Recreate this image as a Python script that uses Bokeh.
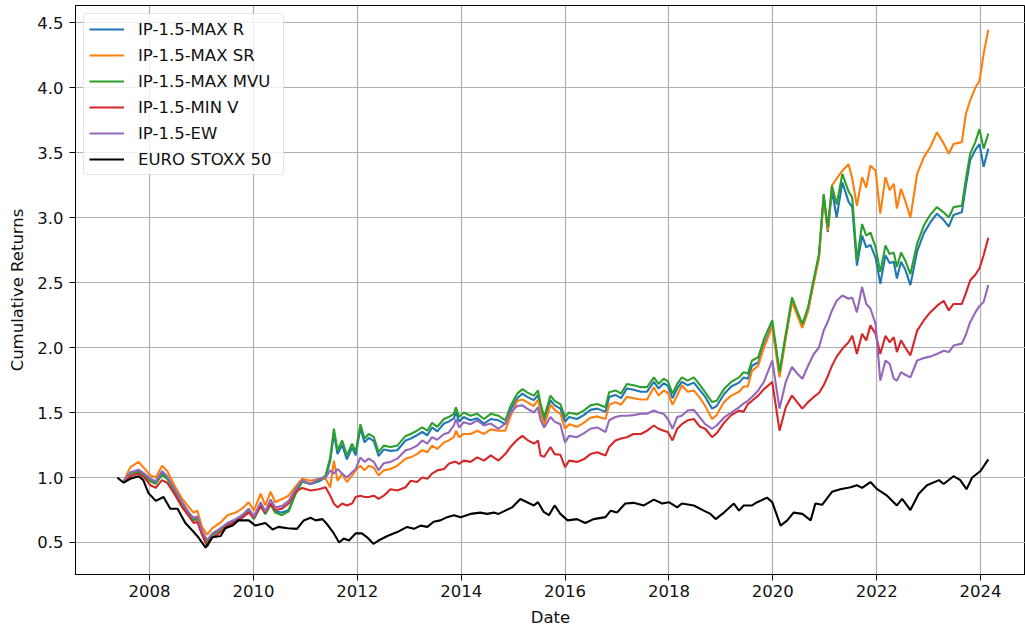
from bokeh.plotting import figure
from bokeh.models import Range1d, FixedTicker, NumeralTickFormatter
from bokeh.embed import file_html
from bokeh.resources import INLINE

FONT = "DejaVu Sans"

# Month-end observation dates (decimal years) shared by the five portfolios
years = [2007.50, 2007.63, 2007.79, 2007.90, 2008.02, 2008.12, 2008.24, 2008.34, 2008.50, 2008.63,
         2008.76, 2008.85, 2008.92, 2009.01, 2009.11, 2009.21, 2009.37, 2009.50, 2009.66, 2009.78,
         2009.91, 2010.01, 2010.14, 2010.23, 2010.33, 2010.42, 2010.55, 2010.68, 2010.81, 2010.94,
         2011.10, 2011.26, 2011.39, 2011.48, 2011.55, 2011.62, 2011.71, 2011.80, 2011.90, 2011.97,
         2012.06, 2012.14, 2012.22, 2012.32, 2012.41, 2012.51, 2012.64, 2012.77, 2012.93, 2013.03,
         2013.15, 2013.25, 2013.35, 2013.44, 2013.54, 2013.67, 2013.76, 2013.86, 2013.90, 2013.96,
         2014.05, 2014.18, 2014.31, 2014.44, 2014.57, 2014.72, 2014.85, 2014.95, 2015.08, 2015.18,
         2015.27, 2015.40, 2015.48, 2015.53, 2015.60, 2015.72, 2015.80, 2015.91, 2016.00, 2016.08,
         2016.23, 2016.36, 2016.49, 2016.62, 2016.78, 2016.85, 2016.97, 2017.08, 2017.19, 2017.32,
         2017.46, 2017.58, 2017.71, 2017.80, 2017.90, 2017.98, 2018.07, 2018.16, 2018.25, 2018.36,
         2018.48, 2018.60, 2018.70, 2018.83, 2018.92, 2019.06, 2019.20, 2019.35, 2019.44, 2019.52,
         2019.60, 2019.72, 2019.83, 2019.99, 2020.13, 2020.25, 2020.37, 2020.47, 2020.57, 2020.68,
         2020.79, 2020.89, 2020.98, 2021.06, 2021.14, 2021.23, 2021.34, 2021.46, 2021.53, 2021.62,
         2021.72, 2021.80, 2021.88, 2021.98, 2022.07, 2022.17, 2022.25, 2022.33, 2022.39, 2022.47,
         2022.55, 2022.65, 2022.78, 2022.91, 2023.03, 2023.16, 2023.29, 2023.39, 2023.48, 2023.64,
         2023.72, 2023.80, 2023.90, 2023.98, 2024.06, 2024.15]

max_r = [0.97, 1.03, 1.05, 1.02, 0.98, 0.96, 1.03, 1.00, 0.89, 0.80,
         0.72, 0.68, 0.69, 0.58, 0.50, 0.56, 0.60, 0.64, 0.67, 0.70,
         0.75, 0.69, 0.79, 0.72, 0.80, 0.74, 0.73, 0.75, 0.88, 0.97,
         0.95, 0.97, 1.00, 1.13, 1.34, 1.18, 1.25, 1.14, 1.23, 1.17,
         1.38, 1.27, 1.305, 1.28, 1.165, 1.215, 1.205, 1.21, 1.285, 1.30,
         1.325, 1.35, 1.325, 1.385, 1.355, 1.415, 1.43, 1.455, 1.505, 1.43,
         1.465, 1.44, 1.455, 1.415, 1.45, 1.44, 1.41, 1.52, 1.61, 1.645,
         1.62, 1.595, 1.635, 1.53, 1.43, 1.595, 1.555, 1.53, 1.43, 1.465,
         1.45, 1.48, 1.52, 1.53, 1.505, 1.62, 1.635, 1.61, 1.685, 1.675,
         1.66, 1.66, 1.735, 1.685, 1.725, 1.705, 1.61, 1.685, 1.735, 1.71,
         1.73, 1.67, 1.62, 1.53, 1.55, 1.64, 1.70, 1.73, 1.77, 1.76,
         1.86, 1.885, 2.02, 2.17, 1.80, 2.08, 2.36, 2.26, 2.16, 2.29,
         2.51, 2.70, 3.16, 2.89, 3.21, 3.00, 3.27, 3.12, 3.08, 2.63,
         2.86, 2.77, 2.79, 2.69, 2.49, 2.71, 2.65, 2.66, 2.53, 2.66,
         2.60, 2.48, 2.74, 2.88, 2.96, 3.03, 2.98, 2.93, 3.02, 3.04,
         3.25, 3.44, 3.52, 3.565, 3.39, 3.53]

max_sr = [0.97, 1.08, 1.12, 1.07, 1.015, 1.00, 1.09, 1.05, 0.925, 0.835,
          0.77, 0.73, 0.745, 0.62, 0.56, 0.61, 0.655, 0.71, 0.73, 0.76,
          0.81, 0.745, 0.875, 0.785, 0.89, 0.81, 0.835, 0.86, 0.93, 0.99,
          0.975, 0.99, 0.99, 0.925, 1.13, 0.975, 1.03, 0.965, 1.015, 1.055,
          1.09, 1.055, 1.09, 1.075, 1.015, 1.055, 1.065, 1.09, 1.145, 1.155,
          1.18, 1.21, 1.195, 1.245, 1.22, 1.27, 1.285, 1.31, 1.36, 1.31,
          1.335, 1.335, 1.36, 1.335, 1.37, 1.36, 1.36, 1.47, 1.59, 1.60,
          1.58, 1.55, 1.60, 1.50, 1.40, 1.56, 1.52, 1.49, 1.375, 1.41,
          1.39, 1.42, 1.46, 1.47, 1.45, 1.56, 1.58, 1.56, 1.62, 1.61,
          1.60, 1.60, 1.695, 1.63, 1.67, 1.65, 1.56, 1.63, 1.71, 1.66,
          1.67, 1.61, 1.55, 1.45, 1.48, 1.58, 1.63, 1.66, 1.70, 1.70,
          1.82, 1.86, 2.00, 2.16, 1.77, 2.07, 2.35, 2.25, 2.15, 2.28,
          2.50, 2.69, 3.16, 2.90, 3.245, 3.30, 3.36, 3.41, 3.30, 3.09,
          3.31, 3.23, 3.40, 3.36, 3.03, 3.31, 3.21, 3.26, 3.07, 3.22,
          3.13, 3.00, 3.335, 3.465, 3.54, 3.655, 3.57, 3.49, 3.565, 3.58,
          3.80, 3.90, 4.00, 4.05, 4.26, 4.445]

max_mvu = [0.97, 1.03, 1.04, 1.01, 0.97, 0.95, 1.02, 0.99, 0.88, 0.79,
           0.71, 0.67, 0.68, 0.57, 0.50, 0.56, 0.60, 0.63, 0.66, 0.69,
           0.74, 0.68, 0.78, 0.72, 0.79, 0.73, 0.71, 0.74, 0.87, 0.97,
           0.95, 0.98, 1.015, 1.155, 1.375, 1.21, 1.285, 1.17, 1.26, 1.195,
           1.41, 1.30, 1.335, 1.31, 1.195, 1.245, 1.235, 1.245, 1.32, 1.335,
           1.36, 1.385, 1.36, 1.42, 1.39, 1.45, 1.465, 1.49, 1.54, 1.465,
           1.50, 1.475, 1.49, 1.45, 1.49, 1.475, 1.44, 1.55, 1.645, 1.68,
           1.655, 1.63, 1.67, 1.565, 1.465, 1.63, 1.59, 1.565, 1.465, 1.50,
           1.485, 1.515, 1.555, 1.565, 1.54, 1.655, 1.67, 1.645, 1.72, 1.71,
           1.695, 1.695, 1.77, 1.72, 1.76, 1.74, 1.645, 1.72, 1.77, 1.745,
           1.77, 1.71, 1.655, 1.58, 1.59, 1.68, 1.735, 1.77, 1.81, 1.80,
           1.90, 1.925, 2.065, 2.21, 1.81, 2.105, 2.385, 2.28, 2.18, 2.31,
           2.53, 2.72, 3.18, 2.925, 3.245, 3.10, 3.335, 3.20, 3.155, 2.67,
           2.95, 2.86, 2.885, 2.77, 2.58, 2.785, 2.72, 2.73, 2.62, 2.73,
           2.67, 2.565, 2.80, 2.94, 3.02, 3.08, 3.04, 3.00, 3.08, 3.09,
           3.30, 3.49, 3.58, 3.68, 3.53, 3.645]

min_v = [0.96, 1.01, 1.03, 1.00, 0.94, 0.92, 0.98, 0.96, 0.86, 0.77,
         0.70, 0.65, 0.66, 0.56, 0.47, 0.54, 0.58, 0.63, 0.66, 0.69,
         0.73, 0.69, 0.78, 0.73, 0.80, 0.75, 0.76, 0.80, 0.89, 0.92,
         0.90, 0.91, 0.925, 0.86, 0.80, 0.77, 0.80, 0.785, 0.80, 0.85,
         0.86, 0.85, 0.85, 0.86, 0.835, 0.86, 0.91, 0.90, 0.925, 0.975,
         0.965, 1.00, 0.99, 1.03, 1.055, 1.065, 1.105, 1.12, 1.12, 1.105,
         1.13, 1.12, 1.155, 1.13, 1.17, 1.13, 1.18, 1.235, 1.29, 1.32,
         1.29, 1.26, 1.285, 1.17, 1.16, 1.235, 1.18, 1.175, 1.08, 1.13,
         1.12, 1.14, 1.18, 1.195, 1.17, 1.235, 1.285, 1.30, 1.31, 1.335,
         1.335, 1.36, 1.40, 1.375, 1.36, 1.35, 1.285, 1.375, 1.41, 1.44,
         1.45, 1.39, 1.375, 1.31, 1.34, 1.42, 1.48, 1.515, 1.505, 1.565,
         1.59, 1.63, 1.68, 1.735, 1.36, 1.54, 1.63, 1.58, 1.53, 1.58,
         1.62, 1.65, 1.71, 1.78, 1.86, 1.93, 1.99, 2.04, 2.09, 1.95,
         2.105, 2.055, 2.17, 2.105, 1.95, 2.09, 2.04, 2.08, 1.965, 2.055,
         2.00, 1.94, 2.13, 2.21, 2.27, 2.32, 2.36, 2.285, 2.335, 2.335,
         2.42, 2.515, 2.56, 2.61, 2.71, 2.845]

equal_w = [0.97, 1.04, 1.06, 1.03, 0.99, 0.97, 1.05, 1.01, 0.90, 0.81,
           0.73, 0.69, 0.70, 0.59, 0.52, 0.57, 0.61, 0.65, 0.68, 0.71,
           0.76, 0.70, 0.81, 0.74, 0.83, 0.77, 0.78, 0.82, 0.91, 0.98,
           0.95, 0.99, 1.00, 1.055, 1.03, 1.065, 1.03, 1.00, 1.04, 1.065,
           1.155, 1.12, 1.145, 1.12, 1.055, 1.11, 1.12, 1.145, 1.21, 1.22,
           1.245, 1.285, 1.26, 1.31, 1.29, 1.335, 1.345, 1.40, 1.45, 1.385,
           1.425, 1.41, 1.44, 1.40, 1.415, 1.375, 1.415, 1.50, 1.55, 1.555,
           1.53, 1.50, 1.54, 1.44, 1.385, 1.465, 1.43, 1.41, 1.27, 1.32,
           1.31, 1.34, 1.375, 1.385, 1.35, 1.44, 1.465, 1.475, 1.475, 1.48,
           1.49, 1.49, 1.515, 1.50, 1.49, 1.45, 1.375, 1.465, 1.475, 1.515,
           1.52, 1.46, 1.41, 1.375, 1.40, 1.46, 1.50, 1.54, 1.57, 1.59,
           1.62, 1.67, 1.735, 1.90, 1.53, 1.735, 1.85, 1.80, 1.76, 1.86,
           1.95, 2.00, 2.13, 2.20, 2.285, 2.36, 2.40, 2.375, 2.385, 2.27,
           2.465, 2.335, 2.30, 2.18, 1.745, 1.90, 1.875, 1.76, 1.745, 1.81,
           1.79, 1.77, 1.90, 1.92, 1.93, 1.95, 1.975, 1.965, 2.015, 2.03,
           2.10, 2.195, 2.27, 2.32, 2.35, 2.48]

# Benchmark index, rebased to 1 at the start
stoxx_years = [2007.38, 2007.50, 2007.63, 2007.79, 2007.88, 2007.98, 2008.12, 2008.27, 2008.40, 2008.54,
               2008.69, 2008.83, 2008.94, 2009.08, 2009.21, 2009.37, 2009.46, 2009.60, 2009.71, 2009.91,
               2010.04, 2010.23, 2010.37, 2010.48, 2010.66, 2010.84, 2010.97, 2011.10, 2011.20, 2011.33,
               2011.42, 2011.55, 2011.65, 2011.74, 2011.84, 2011.97, 2012.09, 2012.19, 2012.31, 2012.41,
               2012.58, 2012.77, 2012.96, 2013.09, 2013.22, 2013.35, 2013.47, 2013.60, 2013.73, 2013.86,
               2013.99, 2014.18, 2014.37, 2014.50, 2014.63, 2014.72, 2014.85, 2014.98, 2015.14, 2015.27,
               2015.40, 2015.48, 2015.59, 2015.69, 2015.80, 2015.91, 2016.05, 2016.23, 2016.39, 2016.55,
               2016.78, 2016.88, 2017.00, 2017.16, 2017.32, 2017.52, 2017.71, 2017.87, 2018.00, 2018.16,
               2018.25, 2018.48, 2018.67, 2018.80, 2018.90, 2019.06, 2019.25, 2019.35, 2019.44, 2019.60,
               2019.70, 2019.89, 2019.99, 2020.15, 2020.28, 2020.40, 2020.57, 2020.73, 2020.82, 2020.95,
               2021.14, 2021.30, 2021.50, 2021.62, 2021.72, 2021.88, 2022.01, 2022.20, 2022.39, 2022.49,
               2022.65, 2022.81, 2022.97, 2023.20, 2023.29, 2023.48, 2023.61, 2023.73, 2023.84, 2024.00,
               2024.15]

stoxx = [1.00, 0.96, 0.99, 1.01, 0.98, 0.88, 0.82, 0.85, 0.76, 0.76,
         0.65, 0.59, 0.54, 0.46, 0.54, 0.55, 0.61, 0.63, 0.67, 0.67,
         0.63, 0.65, 0.60, 0.62, 0.61, 0.605, 0.67, 0.69, 0.67, 0.68,
         0.64, 0.57, 0.50, 0.53, 0.515, 0.57, 0.57, 0.54, 0.49, 0.515,
         0.55, 0.58, 0.62, 0.605, 0.63, 0.62, 0.66, 0.67, 0.695, 0.71,
         0.695, 0.72, 0.73, 0.72, 0.73, 0.72, 0.745, 0.77, 0.835, 0.81,
         0.785, 0.81, 0.735, 0.71, 0.785, 0.72, 0.67, 0.68, 0.65, 0.68,
         0.695, 0.745, 0.73, 0.80, 0.805, 0.785, 0.83, 0.80, 0.81, 0.77,
         0.80, 0.785, 0.745, 0.72, 0.68, 0.73, 0.80, 0.745, 0.785, 0.785,
         0.81, 0.845, 0.81, 0.63, 0.67, 0.73, 0.72, 0.67, 0.80, 0.79,
         0.89, 0.91, 0.925, 0.94, 0.92, 0.965, 0.91, 0.86, 0.785, 0.835,
         0.75, 0.875, 0.94, 0.98, 0.95, 1.01, 0.98, 0.91, 1.00, 1.05,
         1.14]

series = [
    ("IP-1.5-MAX R", max_r, "#1f77b4"),
    ("IP-1.5-MAX SR", max_sr, "#ff7f0e"),
    ("IP-1.5-MAX MVU", max_mvu, "#2ca02c"),
    ("IP-1.5-MIN V", min_v, "#d62728"),
    ("IP-1.5-EW", equal_w, "#9467bd"),
]

x_ticks = list(range(2008, 2025, 2))
y_ticks = [0.5, 1.0, 1.5, 2.0, 2.5, 3.0, 3.5, 4.0, 4.5]

p = figure(width=1025, height=632, title=None,
           output_backend="svg", toolbar_location=None,
           x_range=Range1d(2006.575, 2024.866), y_range=Range1d(0.2538, 4.631),
           min_border_left=75, min_border_right=0, min_border_top=5, min_border_bottom=58)

for name, vals, color in series:
    p.line(years, vals, line_color=color, line_width=2.1, legend_label=name)
p.line(stoxx_years, stoxx, line_color="black", line_width=2.1, legend_label="EURO STOXX 50")

# Axes and grid
p.xaxis.ticker = FixedTicker(ticks=x_ticks)
p.yaxis.ticker = FixedTicker(ticks=y_ticks)
p.xgrid.ticker = FixedTicker(ticks=x_ticks)
p.ygrid.ticker = FixedTicker(ticks=y_ticks)
p.xaxis.formatter = NumeralTickFormatter(format="0")
p.yaxis.formatter = NumeralTickFormatter(format="0.0")
p.xaxis.axis_label = "Date"
p.yaxis.axis_label = "Cumulative Returns"

for ax in (p.xaxis[0], p.yaxis[0]):
    ax.major_tick_out = 6
    ax.major_tick_in = 0
    ax.minor_tick_out = 0
    ax.minor_tick_in = 0
    ax.major_tick_line_color = "black"
    ax.axis_line_color = "black"
    ax.axis_line_width = 1
    ax.major_label_text_font = FONT
    ax.major_label_text_font_size = "16.5px"
    ax.major_label_text_color = "#111111"
    ax.axis_label_text_font = FONT
    ax.axis_label_text_font_size = "16.5px"
    ax.axis_label_text_font_style = "normal"
    ax.axis_label_text_color = "#111111"
p.xaxis.major_label_standoff = 4
p.xaxis.axis_label_standoff = 8
p.yaxis.major_label_standoff = 6
p.yaxis.axis_label_standoff = 7

p.grid.grid_line_color = "#b0b0b0"
p.grid.grid_line_width = 1.2
p.outline_line_color = "black"
p.outline_line_width = 1
p.background_fill_color = "white"
p.border_fill_color = "white"

# Legend
lg = p.legend[0]
lg.location = "top_left"
lg.margin = 8
lg.padding = 5
lg.spacing = 6
lg.label_height = 20
lg.glyph_height = 20
lg.glyph_width = 35
lg.label_standoff = 14
lg.label_width = 140
lg.label_text_font = FONT
lg.label_text_font_size = "16.5px"
lg.label_text_color = "#111111"
lg.border_line_color = "#cccccc"
lg.border_line_width = 1
lg.background_fill_color = "white"
lg.background_fill_alpha = 0.8
if "border_radius" in lg.properties():
    lg.border_radius = 4

open("out.html", "w").write(file_html(p, INLINE))
